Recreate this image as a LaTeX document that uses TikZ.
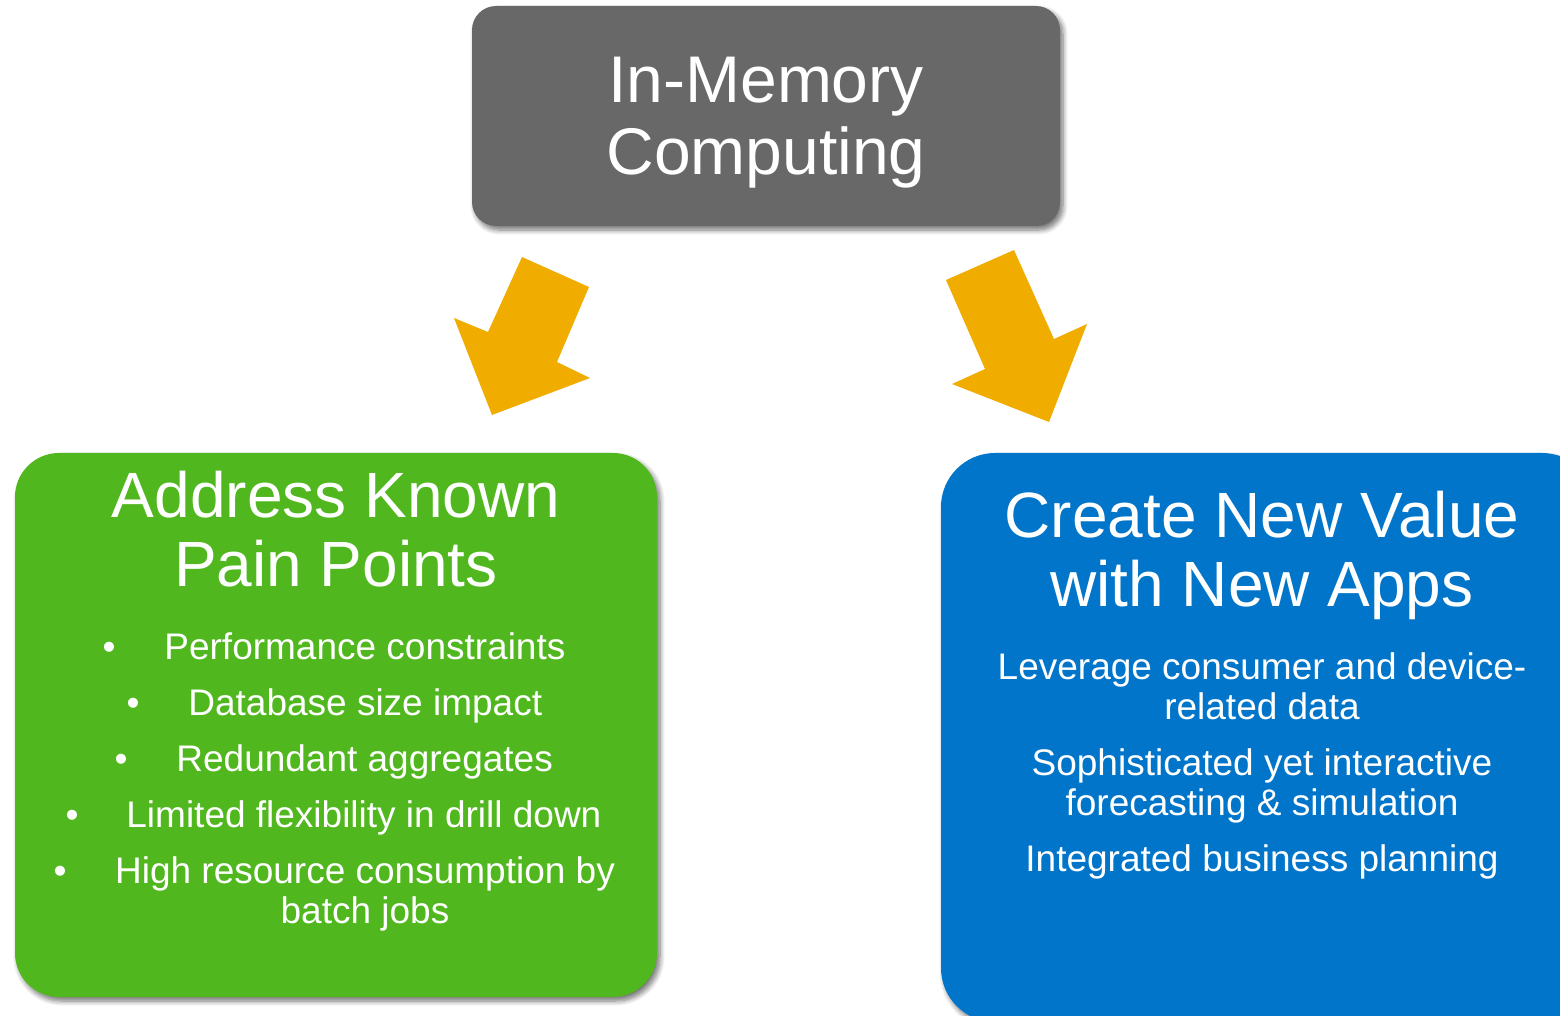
\documentclass[tikz,border=0pt]{standalone}
\usepackage{fontspec}
\setmainfont{Liberation Sans}
\usetikzlibrary{shadows.blur}
\definecolor{boxgray}{RGB}{104,104,104}
\definecolor{boxgreen}{RGB}{80,184,30}
\definecolor{boxblue}{RGB}{0,117,201}
\definecolor{arrowgold}{RGB}{240,173,0}

\begin{document}
\begin{tikzpicture}[x=0.5pt,y=-0.5pt,
  panel/.style={draw=none, inner sep=0pt,
    blur shadow={shadow xshift=1.5pt, shadow yshift=-2pt,
      shadow blur radius=2.5pt, shadow blur steps=8, shadow opacity=55}},
  bigtext/.style={text=white, align=center, font=\fontsize{33}{36}\selectfont},
  titletext/.style={text=white, align=center, font=\fontsize{32}{34.5}\selectfont},
  itemtext/.style={text=white, align=center, font=\fontsize{18.5}{20}\selectfont},
  dot/.style={text=white, font=\fontsize{18.5}{20}\selectfont},
  bigarrow/.style={fill=arrowgold, draw=none}
]
\clip (0,0) rectangle (1560,1016);

% top panel
\node[panel, fill=boxgray, rounded corners=12pt,
      minimum width=294pt, minimum height=110pt] (core) at (766,116) {};
\node[bigtext, anchor=base] (coretext) at (766,175) {In-Memory\\Computing};

% side panels
\node[panel, fill=boxgreen, rounded corners=22pt,
      minimum width=321pt, minimum height=272pt] (pain) at (336,725) {};
\node[panel, fill=boxblue, rounded corners=27pt,
      minimum width=327.5pt, minimum height=284.5pt] (value) at (1268.5,737.5) {};

% block arrows
\fill[bigarrow] (522,257) -- (589,287) -- (557,362) -- (590,378)
  -- (492,415) -- (454,318) -- (488,332) -- cycle;
\fill[bigarrow] (946,280) -- (1014,250) -- (1054,339) -- (1087,324)
  -- (1049,422) -- (952,384) -- (985,369) -- cycle;

% left panel text (base anchor sits on the last line)
\node[titletext, anchor=base] (painhead) at (336,586) {Address Known\\Pain Points};
\node[dot, anchor=base] (d1) at (109,659) {•};
\node[itemtext, anchor=base west, inner sep=0pt] (i1) at (164,659) {Performance constraints};
\node[dot, anchor=base] (d2) at (133,715) {•};
\node[itemtext, anchor=base west, inner sep=0pt] (i2) at (188,715) {Database size impact};
\node[dot, anchor=base] (d3) at (121,771) {•};
\node[itemtext, anchor=base west, inner sep=0pt] (i3) at (176,771) {Redundant aggregates};
\node[dot, anchor=base] (d4) at (72,827) {•};
\node[itemtext, anchor=base west, inner sep=0pt] (i4) at (126,827) {Limited flexibility in drill down};
\node[dot, anchor=base] (d5) at (60,883) {•};
\node[itemtext, anchor=base] (i5) at (365,923) {High resource consumption by\\batch jobs};

% right panel text
\node[titletext, anchor=base] (valuehead) at (1262,606) {Create New Value\\with New Apps};
\node[itemtext, anchor=base] (v1) at (1262,719) {Leverage consumer and device-\\related data};
\node[itemtext, anchor=base] (v2) at (1262,815) {Sophisticated yet interactive\\forecasting \& simulation};
\node[itemtext, anchor=base] (v3) at (1262,871) {Integrated business planning};
\end{tikzpicture}
\end{document}
